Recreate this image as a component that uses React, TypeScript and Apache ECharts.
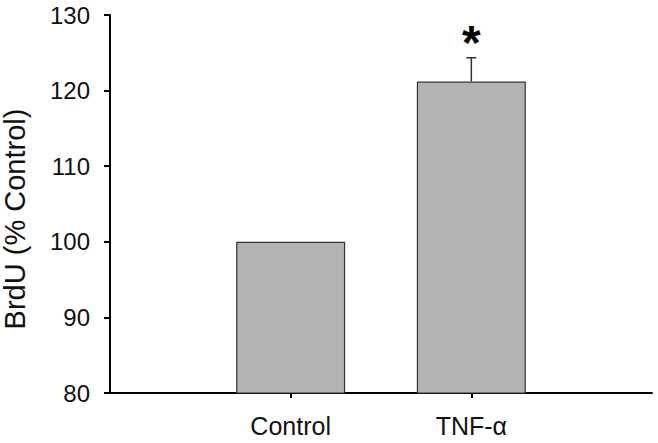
import React, { useEffect, useRef } from "react";
import * as echarts from "echarts";

const categories = ["", "Control", "TNF-α", ""];
const meanValues: (number | string)[] = ["-", 100, 121.2, "-"];
const errorValues: (number | null)[] = [null, 0, 3.15, null];
const significance: string[] = ["", "", "*", ""];
const yTicks = { min: 80, max: 130, interval: 10 };
const yAxisTitle = "BrdU (% Control)";

export default function App() {
  const ref = useRef<HTMLDivElement>(null);
  useEffect(() => {
    if (!ref.current) return;
    const chart = echarts.init(ref.current, null, { renderer: "svg" });
    const errData = categories
      .map((c, i) => [i, meanValues[i], errorValues[i], significance[i]])
      .filter((d) => typeof d[1] === "number" && d[2] !== null);
    chart.setOption({
      animation: false,
      backgroundColor: "#ffffff",
      grid: { left: 110, right: 6, top: 15, bottom: 50 },
      xAxis: {
        type: "category",
        data: categories,
        boundaryGap: false,
        axisLine: { lineStyle: { color: "#000", width: 2 } },
        axisTick: {
          show: true,
          length: 5,
          interval: (index: number) => index === 1 || index === 2,
          lineStyle: { color: "#000", width: 2 },
        },
        axisLabel: {
          interval: 0,
          margin: 20,
          fontFamily: "Liberation Sans",
          fontSize: 25,
          color: "#111",
        },
        splitLine: { show: false },
      },
      yAxis: {
        type: "value",
        min: yTicks.min,
        max: yTicks.max,
        interval: yTicks.interval,
        axisLine: { show: true, lineStyle: { color: "#000", width: 2 } },
        axisTick: { show: true, length: 6, lineStyle: { color: "#000", width: 2 } },
        axisLabel: {
          margin: 20,
          fontFamily: "Liberation Sans",
          fontSize: 24,
          color: "#111",
        },
        splitLine: { show: false },
      },
      graphic: [
        {
          type: "text",
          x: 15,
          y: 219,
          rotation: Math.PI / 2,
          style: {
            text: yAxisTitle,
            fontFamily: "Liberation Sans",
            fontSize: 29,
            fill: "#111",
            align: "center",
            verticalAlign: "middle",
          },
        },
      ],
      series: [
        {
          type: "bar",
          data: meanValues,
          barWidth: 109,
          itemStyle: { color: "#b3b3b3", borderColor: "#333", borderWidth: 1.2 },
        },
        {
          type: "custom",
          data: errData,
          z: 10,
          renderItem: (params: any, api: any) => {
            const x = api.value(0);
            const m = api.value(1);
            const e = api.value(2);
            const sig = errData[params.dataIndex][3] as string;
            const base = api.coord([x, m]);
            const top = api.coord([x, m + e]);
            const children: any[] = [];
            if (e > 0) {
              children.push(
                {
                  type: "line",
                  shape: { x1: base[0], y1: base[1], x2: top[0], y2: top[1] },
                  style: { stroke: "#333", lineWidth: 1.5 },
                },
                {
                  type: "line",
                  shape: { x1: top[0] - 5, y1: top[1], x2: top[0] + 5, y2: top[1] },
                  style: { stroke: "#333", lineWidth: 1.5 },
                }
              );
            }
            if (sig) {
              children.push({
                type: "text",
                x: top[0],
                y: top[1] + 9,
                style: {
                  text: sig,
                  fontFamily: "Liberation Sans",
                  fontWeight: "bold",
                  fontSize: 48,
                  fill: "#000",
                  align: "center",
                  verticalAlign: "bottom",
                },
              });
            }
            return { type: "group", children };
          },
        },
      ],
    });
    return () => chart.dispose();
  }, []);
  return <div ref={ref} style={{ width: 658, height: 443, position: "absolute", left: 0, top: 0 }} />;
}
